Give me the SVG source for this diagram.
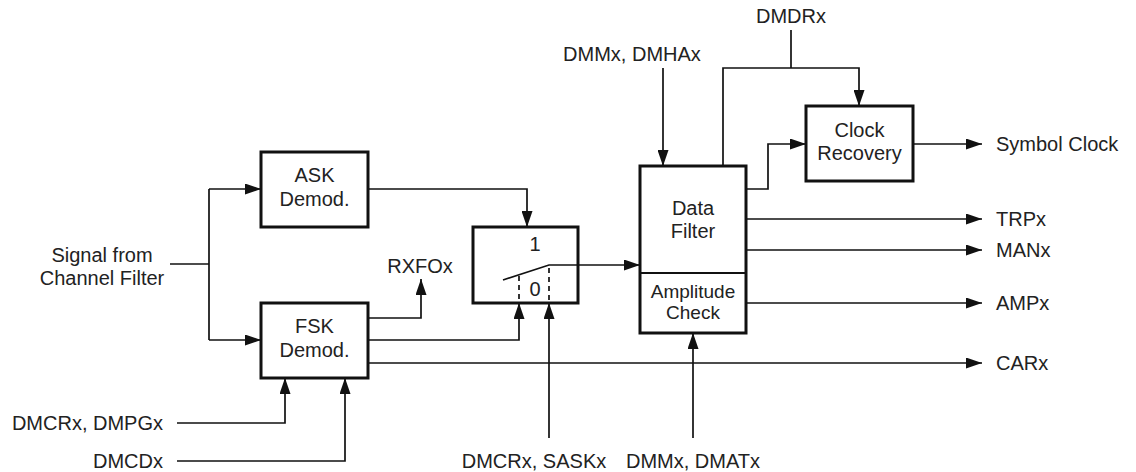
<svg xmlns="http://www.w3.org/2000/svg" width="1136" height="472" viewBox="0 0 1136 472">
<style>
.box{fill:#fff;stroke:#111;stroke-width:3}
.ln{fill:none;stroke:#111;stroke-width:1.7}
.dash{fill:none;stroke:#111;stroke-width:1.7;stroke-dasharray:5,4}
text{font-family:"Liberation Sans",Arial,sans-serif;font-size:20px;fill:#222}
.c{text-anchor:middle}
.e{text-anchor:end}
</style>
<defs>
<marker id="ah" viewBox="0 0 16 11" refX="16" refY="5.5" markerWidth="16" markerHeight="11" markerUnits="userSpaceOnUse" orient="auto">
<path d="M0,0 L16,5.5 L0,11 Z" fill="#111"/>
</marker>
</defs>
<g id="connectors">
<path class="ln" d="M170,264 H209"/>
<path class="ln" d="M209,189 V340"/>
<path class="ln" d="M209,189 H261" marker-end="url(#ah)"/>
<path class="ln" d="M209,340 H261" marker-end="url(#ah)"/>
<path class="ln" d="M368,189 H527 V227" marker-end="url(#ah)"/>
<path class="ln" d="M368,318 H421 V279" marker-end="url(#ah)"/>
<path class="ln" d="M368,340 H519 V303" marker-end="url(#ah)"/>
<path class="ln" d="M368,363 H982" marker-end="url(#ah)"/>
<path class="ln" d="M549,438 V303" marker-end="url(#ah)"/>
<path class="ln" d="M177,423 H285 V378" marker-end="url(#ah)"/>
<path class="ln" d="M177,461 H345 V378" marker-end="url(#ah)"/>
<path class="ln" d="M578,265 H640" marker-end="url(#ah)"/>
<path class="ln" d="M663,68 V166" marker-end="url(#ah)"/>
<path class="ln" d="M791,30 V68"/>
<path class="ln" d="M723,166 V68 H859 V106" marker-end="url(#ah)"/>
<path class="ln" d="M746,189 H768 V144 H806" marker-end="url(#ah)"/>
<path class="ln" d="M913,144 H982" marker-end="url(#ah)"/>
<path class="ln" d="M746,219 H982" marker-end="url(#ah)"/>
<path class="ln" d="M746,250 H982" marker-end="url(#ah)"/>
<path class="ln" d="M746,303 H982" marker-end="url(#ah)"/>
<path class="ln" d="M693,438 V333" marker-end="url(#ah)"/>
</g>
<g id="ask">
<rect class="box" x="261" y="152" width="107" height="75"/>
<text class="c" x="314.5" y="182">ASK</text>
<text class="c" x="314.5" y="206">Demod.</text>
</g>
<g id="fsk">
<rect class="box" x="261" y="303" width="107" height="75"/>
<text class="c" x="314.5" y="333">FSK</text>
<text class="c" x="314.5" y="357">Demod.</text>
</g>
<g id="switch">
<rect class="box" x="473" y="227" width="105" height="76"/>
<text class="c" x="535" y="251">1</text>
<text class="c" x="535" y="296">0</text>
<path class="ln" d="M503,280 L549,265 H578"/>
<path class="dash" d="M519,276 V302"/>
<path class="dash" d="M549,268 V302"/>
</g>
<g id="datafilter">
<rect class="box" x="640" y="166" width="106" height="167"/>
<path class="ln" d="M640,273 H746" style="stroke-width:2"/>
<text class="c" x="693" y="215">Data</text>
<text class="c" x="693" y="238">Filter</text>
<text class="c" x="693" y="298" style="font-size:19px">Amplitude</text>
<text class="c" x="693" y="319" style="font-size:19px">Check</text>
</g>
<g id="clock">
<rect class="box" x="806" y="106" width="107" height="75"/>
<text class="c" x="859.5" y="137">Clock</text>
<text class="c" x="859.5" y="160">Recovery</text>
</g>
<g id="labels">
<text class="c" x="102" y="262">Signal from</text>
<text class="c" x="102" y="285">Channel Filter</text>
<text class="c" x="420" y="273">RXFOx</text>
<text class="c" x="632" y="61">DMMx, DMHAx</text>
<text class="c" x="791" y="23">DMDRx</text>
<text x="996" y="151">Symbol Clock</text>
<text x="996" y="226">TRPx</text>
<text x="996" y="257">MANx</text>
<text x="996" y="310">AMPx</text>
<text x="996" y="370">CARx</text>
<text class="e" x="163" y="430">DMCRx, DMPGx</text>
<text class="e" x="163" y="468">DMCDx</text>
<text class="c" x="534" y="468">DMCRx, SASKx</text>
<text class="c" x="693" y="468">DMMx, DMATx</text>
</g>
</svg>
